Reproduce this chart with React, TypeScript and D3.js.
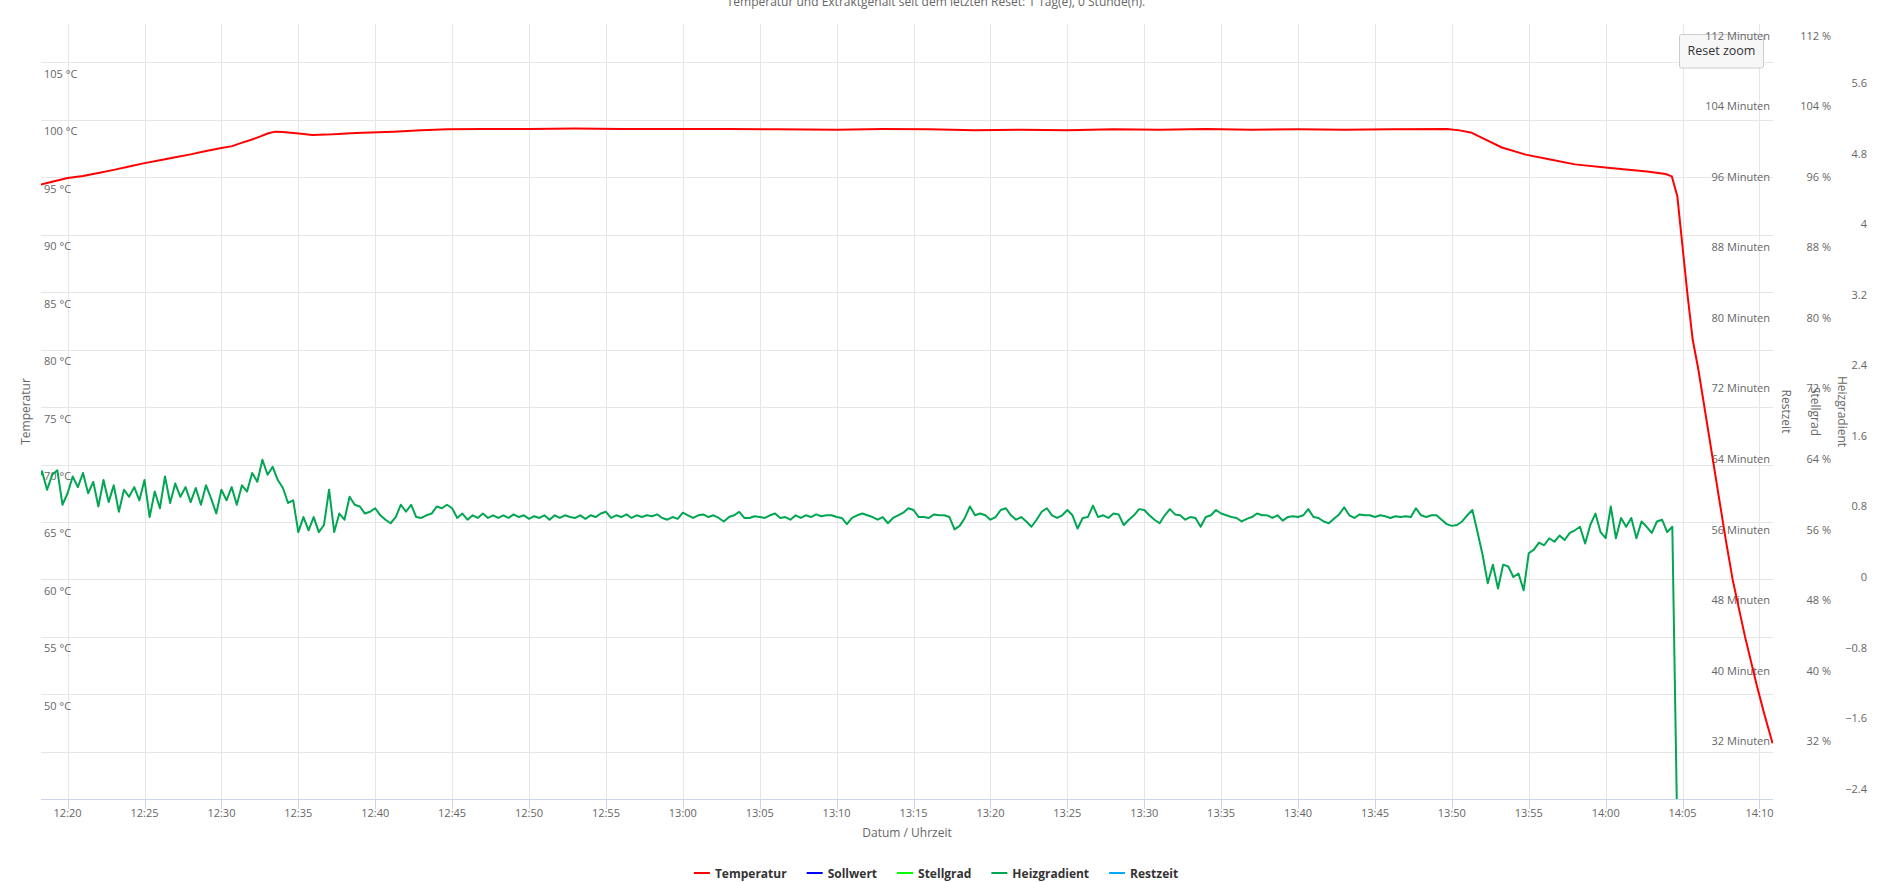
import React, { useEffect, useRef } from 'react';
import * as d3 from 'd3';

const W = 1899;
const H = 882;
const FONT = '"Open Sans", "DejaVu Sans", sans-serif';

const chartTitle = 'Temperatur und Extraktgehalt seit dem letzten Reset: 1 Tag(e), 0 Stunde(n).';
const xAxisTitle = 'Datum / Uhrzeit';
const leftAxisTitle = 'Temperatur';
const rightAxisTitles = ['Restzeit', 'Stellgrad', 'Heizgradient'];
const resetLabel = 'Reset zoom';

const tempTicks = [45, 50, 55, 60, 65, 70, 75, 80, 85, 90, 95, 100, 105];
const restzeitTicks = [32, 40, 48, 56, 64, 72, 80, 88, 96, 104, 112];
const stellgradTicks = [32, 40, 48, 56, 64, 72, 80, 88, 96, 104, 112];
const heizTicks = [-2.4, -1.6, -0.8, 0, 0.8, 1.6, 2.4, 3.2, 4, 4.8, 5.6];

const legendNames = ['Temperatur', 'Sollwert', 'Stellgrad', 'Heizgradient', 'Restzeit'];
const legendColors = ['#ff0000', '#0000ff', '#00ff00', '#00a651', '#00aaff'];

// x range of the zoomed view, minutes after 12:00
const viewMinutes = [18.27, 130.88];

// Temperatur series: minutes after 12:00 and °C
const tempMinutes = [18.0, 19.0, 20.0, 21.0, 22.0, 23.0, 24.0, 25.0, 26.0, 27.0, 28.0, 29.0, 30.0, 30.7, 31.3, 31.9, 32.5, 33.0, 33.5, 34.0, 34.5, 35.2, 35.9, 36.8, 37.6, 38.4, 39.2, 40.2, 41.2, 43.0, 44.7, 47, 50, 53, 56, 60, 63, 66, 70, 73, 76, 79, 82, 85, 88, 91, 94, 97, 100, 103, 106, 109.7, 110.5, 111.3, 112.1, 113.25, 114.8, 116.4, 118.0, 120.3, 122.7, 123.9, 124.3, 124.66, 125.31, 125.66, 126.03, 127.81, 128.26, 129.06, 129.82, 130.3, 130.85];
const tempValues = [94.28, 94.62, 94.95, 95.12, 95.38, 95.65, 95.95, 96.24, 96.48, 96.75, 97.0, 97.3, 97.55, 97.72, 98.0, 98.25, 98.55, 98.82, 98.98, 98.95, 98.88, 98.8, 98.68, 98.72, 98.78, 98.85, 98.88, 98.92, 98.98, 99.1, 99.19, 99.2, 99.22, 99.25, 99.22, 99.2, 99.2, 99.18, 99.15, 99.2, 99.18, 99.1, 99.15, 99.1, 99.18, 99.15, 99.2, 99.15, 99.18, 99.15, 99.18, 99.2, 99.09, 98.88, 98.35, 97.6, 96.98, 96.55, 96.13, 95.82, 95.5, 95.29, 95.09, 93.35, 84.93, 80.86, 78.25, 63.44, 59.96, 55.02, 50.81, 48.34, 45.73];

// Heizgradient series: 20-second samples starting at 12:18:00
const heizStartMinute = 18;
const heizStepMinutes = 1 / 3;
const heizValues = [
  1.04, 1.20, 0.99, 1.16, 1.21, 0.82, 0.95, 1.14, 1.02, 1.18,
  0.95, 1.08, 0.80, 1.10, 0.85, 1.04, 0.74, 0.99, 0.91, 1.02,
  0.87, 1.10, 0.68, 0.97, 0.78, 1.14, 0.84, 1.06, 0.91, 1.02,
  0.85, 1.01, 0.82, 1.04, 0.89, 0.72, 0.99, 0.87, 1.02, 0.82,
  1.04, 0.97, 1.18, 1.08, 1.33, 1.16, 1.25, 1.10, 1.01, 0.84,
  0.87, 0.51, 0.68, 0.53, 0.68, 0.51, 0.59, 0.99, 0.51, 0.72,
  0.65, 0.91, 0.82, 0.80, 0.72, 0.74, 0.78, 0.70, 0.65, 0.61,
  0.68, 0.82, 0.74, 0.82, 0.68, 0.67, 0.70, 0.72, 0.80, 0.78,
  0.82, 0.78, 0.67, 0.72, 0.65, 0.70, 0.67, 0.72, 0.67, 0.70,
  0.67, 0.70, 0.67, 0.71, 0.68, 0.70, 0.66, 0.69, 0.67, 0.70,
  0.65, 0.70, 0.67, 0.70, 0.68, 0.67, 0.70, 0.66, 0.70, 0.68,
  0.72, 0.74, 0.67, 0.70, 0.68, 0.71, 0.67, 0.70, 0.68, 0.70,
  0.69, 0.71, 0.67, 0.65, 0.68, 0.66, 0.73, 0.70, 0.67, 0.70,
  0.71, 0.68, 0.70, 0.67, 0.63, 0.68, 0.70, 0.74, 0.67, 0.67,
  0.69, 0.68, 0.67, 0.70, 0.72, 0.67, 0.68, 0.65, 0.70, 0.67,
  0.70, 0.68, 0.71, 0.69, 0.70, 0.70, 0.68, 0.67, 0.60, 0.67,
  0.70, 0.72, 0.70, 0.68, 0.65, 0.68, 0.61, 0.67, 0.70, 0.73,
  0.78, 0.76, 0.68, 0.68, 0.67, 0.71, 0.70, 0.70, 0.68, 0.54,
  0.58, 0.67, 0.80, 0.70, 0.72, 0.70, 0.65, 0.68, 0.76, 0.78,
  0.70, 0.65, 0.68, 0.63, 0.57, 0.65, 0.74, 0.78, 0.70, 0.67,
  0.70, 0.76, 0.70, 0.55, 0.67, 0.68, 0.81, 0.68, 0.70, 0.67,
  0.72, 0.71, 0.59, 0.65, 0.70, 0.77, 0.76, 0.70, 0.65, 0.61,
  0.70, 0.77, 0.71, 0.70, 0.65, 0.68, 0.67, 0.57, 0.68, 0.70,
  0.76, 0.72, 0.70, 0.68, 0.67, 0.63, 0.66, 0.68, 0.72, 0.70,
  0.70, 0.67, 0.70, 0.64, 0.68, 0.69, 0.68, 0.70, 0.77, 0.68,
  0.67, 0.63, 0.61, 0.66, 0.71, 0.79, 0.70, 0.67, 0.71, 0.70,
  0.70, 0.68, 0.70, 0.69, 0.67, 0.69, 0.68, 0.69, 0.68, 0.78,
  0.70, 0.68, 0.70, 0.70, 0.65, 0.60, 0.58, 0.59, 0.63, 0.70,
  0.76, 0.51, 0.25, -0.07, 0.14, -0.13, 0.14, 0.12, 0.00, 0.04,
  -0.15, 0.27, 0.31, 0.39, 0.36, 0.44, 0.40, 0.47, 0.42, 0.50,
  0.53, 0.57, 0.38, 0.59, 0.72, 0.51, 0.44, 0.80, 0.44, 0.67,
  0.57, 0.67, 0.44, 0.63, 0.57, 0.50, 0.63, 0.65, 0.51, 0.57,
  -3.0,
];

const BASE = new Date(2021, 0, 1, 12, 0, 0).getTime();
const toDate = (m: number) => new Date(BASE + m * 60000);

export default function App() {
  const ref = useRef<SVGSVGElement>(null);

  useEffect(() => {
    const svg = d3.select(ref.current);
    svg.selectAll('*').remove();

    const L = 41, R = 1773, T = 24, B = 799;
    const x = d3.scaleTime().domain(viewMinutes.map(toDate)).range([L, R]);
    const yTemp = d3.scaleLinear().domain([40.885, 108.35]).range([B, T]);
    const yRest = d3.scaleLinear().domain([25.42, 113.36]).range([B, T]);
    const yPct = d3.scaleLinear().domain([25.42, 113.36]).range([B, T]);
    const yHeiz = d3.scaleLinear().domain([-2.518, 6.273]).range([B, T]);

    const lab = '#666666';

    // title (partially cut at top)
    svg.append('text').attr('x', 936).attr('y', 5.5).attr('text-anchor', 'middle')
      .attr('font-size', 12).attr('fill', lab).text(chartTitle);

    // horizontal grid
    svg.append('g').selectAll('line').data(tempTicks).join('line')
      .attr('x1', L).attr('x2', R)
      .attr('y1', (d) => Math.round(yTemp(d)) + 0.5).attr('y2', (d) => Math.round(yTemp(d)) + 0.5)
      .attr('stroke', '#e6e6e6').attr('stroke-width', 1);

    const xt = x.ticks(d3.timeMinute.every(5) as any);
    // vertical grid
    svg.append('g').selectAll('line').data(xt).join('line')
      .attr('x1', (d) => Math.round(x(d)) + 0.5).attr('x2', (d) => Math.round(x(d)) + 0.5)
      .attr('y1', T).attr('y2', B)
      .attr('stroke', '#e6e6e6').attr('stroke-width', 1);

    // x axis
    svg.append('line').attr('x1', L).attr('x2', R).attr('y1', B + 0.5).attr('y2', B + 0.5)
      .attr('stroke', '#ccd6eb');
    svg.append('g').selectAll('line').data(xt).join('line')
      .attr('x1', (d) => Math.round(x(d)) + 0.5).attr('x2', (d) => Math.round(x(d)) + 0.5)
      .attr('y1', B).attr('y2', B + 10).attr('stroke', '#ccd6eb');
    const fmt = d3.timeFormat('%H:%M');
    svg.append('g').selectAll('text').data(xt).join('text')
      .attr('x', (d) => x(d)).attr('y', 817).attr('text-anchor', 'middle')
      .attr('font-size', 11).attr('fill', lab).text((d) => fmt(d));
    svg.append('text').attr('x', (L + R) / 2).attr('y', 837).attr('text-anchor', 'middle')
      .attr('font-size', 12).attr('fill', lab).text(xAxisTitle);

    // left axis labels (inside plot)
    svg.append('g').selectAll('text').data(tempTicks.slice(1)).join('text')
      .attr('x', L + 3).attr('y', (d) => yTemp(d) + 15.5)
      .attr('font-size', 11).attr('fill', lab).text((d) => `${d} °C`);
    svg.append('text').attr('transform', `translate(25,${(T + B) / 2}) rotate(-90)`)
      .attr('text-anchor', 'middle').attr('dominant-baseline', 'central')
      .attr('font-size', 12).attr('fill', lab).text(leftAxisTitle);

    // reset zoom button
    svg.append('rect').attr('x', 1679.5).attr('y', 34.5).attr('width', 84).attr('height', 33.5)
      .attr('rx', 2).attr('fill', '#f7f7f7').attr('stroke', '#cccccc');
    svg.append('text').attr('x', 1721.5).attr('y', 55).attr('text-anchor', 'middle')
      .attr('font-size', 12.5).attr('fill', '#333333').text(resetLabel);

    // right axes labels
    svg.append('g').selectAll('text').data(restzeitTicks).join('text')
      .attr('x', 1770).attr('y', (d) => yRest(d) + 4).attr('text-anchor', 'end')
      .attr('font-size', 11).attr('fill', lab).text((d) => `${d} Minuten`);
    svg.append('g').selectAll('text').data(stellgradTicks).join('text')
      .attr('x', 1831).attr('y', (d) => yPct(d) + 4).attr('text-anchor', 'end')
      .attr('font-size', 11).attr('fill', lab).text((d) => `${d} %`);
    svg.append('g').selectAll('text').data(heizTicks).join('text')
      .attr('x', 1867).attr('y', (d) => yHeiz(d) + 4).attr('text-anchor', 'end')
      .attr('font-size', 11).attr('fill', lab)
      .text((d) => (d === 0 ? '0' : String(+d.toFixed(1)).replace('-', '\u2212')));

    const titleX = [1786.7, 1815, 1842.7];
    rightAxisTitles.forEach((t, i) => {
      svg.append('text').attr('transform', `translate(${titleX[i]},${(T + B) / 2}) rotate(90)`)
        .attr('text-anchor', 'middle').attr('dominant-baseline', 'central')
        .attr('font-size', 12).attr('fill', lab).text(t);
    });

    // series
    svg.append('defs').append('clipPath').attr('id', 'plotclip')
      .append('rect').attr('x', L).attr('y', T - 2).attr('width', R - L).attr('height', B - T + 2);

    const tempData = tempMinutes.map((m, i) => ({ t: toDate(m), v: tempValues[i] }));
    const heizData = heizValues.map((v, i) => ({ t: toDate(heizStartMinute + i * heizStepMinutes), v }));

    const g = svg.append('g').attr('clip-path', 'url(#plotclip)');
    g.append('path').datum(tempData)
      .attr('d', d3.line<any>().x((d) => x(d.t)).y((d) => yTemp(d.v)) as any)
      .attr('fill', 'none').attr('stroke', legendColors[0]).attr('stroke-width', 2)
      .attr('stroke-linejoin', 'round');
    g.append('path').datum(heizData)
      .attr('d', d3.line<any>().x((d) => x(d.t)).y((d) => yHeiz(d.v)) as any)
      .attr('fill', 'none').attr('stroke', legendColors[3]).attr('stroke-width', 2)
      .attr('stroke-linejoin', 'round');

    // legend
    const lg = svg.append('g');
    const items = legendNames.map((name, i) => {
      const it = lg.append('g');
      it.append('line').attr('x1', 0).attr('x2', 16).attr('y1', 873).attr('y2', 873)
        .attr('stroke', legendColors[i]).attr('stroke-width', 2);
      const tx = it.append('text').attr('x', 21).attr('y', 877.5)
        .attr('font-size', 12).attr('font-weight', 'bold').attr('fill', '#333333').text(name);
      const w = (tx.node() as SVGTextElement).getComputedTextLength();
      return { it, w: 21 + w };
    });
    const gap = 20;
    const total = items.reduce((s, d) => s + d.w, 0) + gap * (items.length - 1);
    let cx = 936 - total / 2;
    items.forEach((d) => {
      d.it.attr('transform', `translate(${cx},0)`);
      cx += d.w + gap;
    });
  }, []);

  return (
    <svg
      ref={ref}
      width={W}
      height={H}
      style={{ position: 'absolute', left: 0, top: 0, background: '#ffffff', fontFamily: FONT, display: 'block' }}
    />
  );
}
